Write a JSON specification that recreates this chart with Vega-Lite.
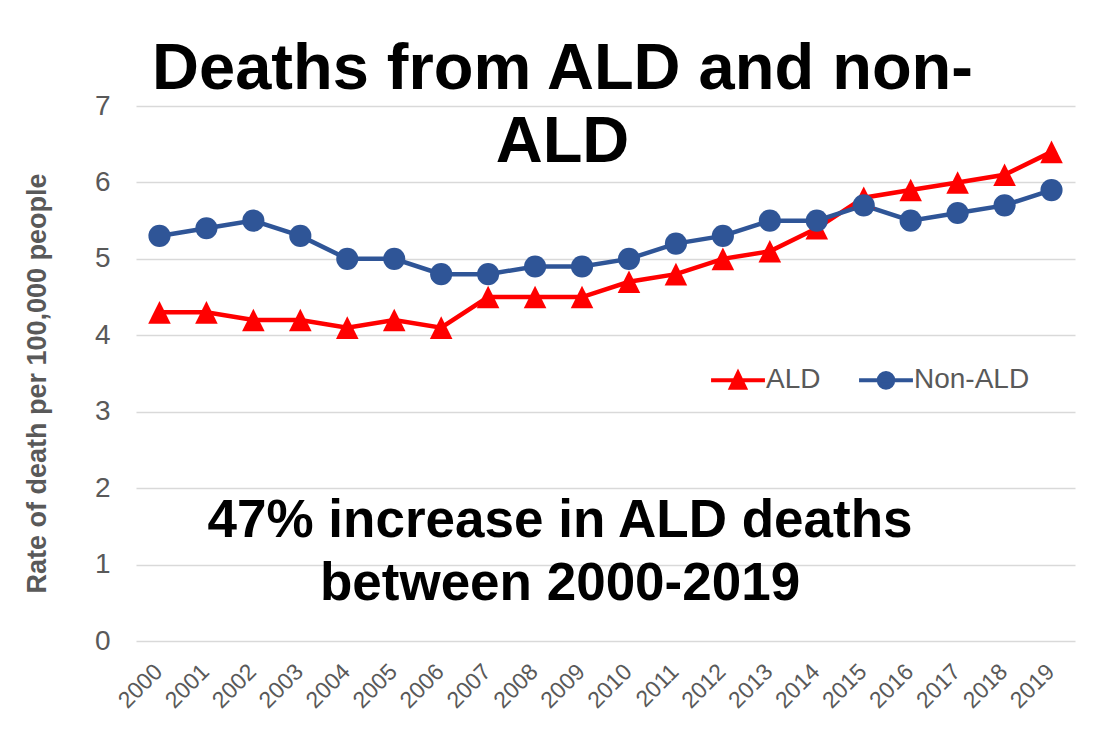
{
  "$schema": "https://vega.github.io/schema/vega-lite/v6.json",
  "width": 939,
  "height": 535,
  "autosize": "none",
  "padding": {"left": 136, "top": 106, "right": 21, "bottom": 94},
  "background": "white",
  "config": {"font": "Liberation Sans", "view": {"stroke": null}},
  "title": {
    "text": ["Deaths from ALD and non-", "ALD"],
    "font": "Liberation Sans",
    "fontSize": 65,
    "fontWeight": "bold",
    "color": "#000000",
    "anchor": "middle",
    "frame": "group",
    "baseline": "alphabetic",
    "lineHeight": 73,
    "offset": 0,
    "dx": -43,
    "dy": 135
  },
  "layer": [
    {
      "data": {
        "values": [
          {"year": "2000", "series": "ALD", "rate": 4.3},
          {"year": "2001", "series": "ALD", "rate": 4.3},
          {"year": "2002", "series": "ALD", "rate": 4.2},
          {"year": "2003", "series": "ALD", "rate": 4.2},
          {"year": "2004", "series": "ALD", "rate": 4.1},
          {"year": "2005", "series": "ALD", "rate": 4.2},
          {"year": "2006", "series": "ALD", "rate": 4.1},
          {"year": "2007", "series": "ALD", "rate": 4.5},
          {"year": "2008", "series": "ALD", "rate": 4.5},
          {"year": "2009", "series": "ALD", "rate": 4.5},
          {"year": "2010", "series": "ALD", "rate": 4.7},
          {"year": "2011", "series": "ALD", "rate": 4.8},
          {"year": "2012", "series": "ALD", "rate": 5.0},
          {"year": "2013", "series": "ALD", "rate": 5.1},
          {"year": "2014", "series": "ALD", "rate": 5.4},
          {"year": "2015", "series": "ALD", "rate": 5.8},
          {"year": "2016", "series": "ALD", "rate": 5.9},
          {"year": "2017", "series": "ALD", "rate": 6.0},
          {"year": "2018", "series": "ALD", "rate": 6.1},
          {"year": "2019", "series": "ALD", "rate": 6.4},
          {"year": "2000", "series": "Non-ALD", "rate": 5.3},
          {"year": "2001", "series": "Non-ALD", "rate": 5.4},
          {"year": "2002", "series": "Non-ALD", "rate": 5.5},
          {"year": "2003", "series": "Non-ALD", "rate": 5.3},
          {"year": "2004", "series": "Non-ALD", "rate": 5.0},
          {"year": "2005", "series": "Non-ALD", "rate": 5.0},
          {"year": "2006", "series": "Non-ALD", "rate": 4.8},
          {"year": "2007", "series": "Non-ALD", "rate": 4.8},
          {"year": "2008", "series": "Non-ALD", "rate": 4.9},
          {"year": "2009", "series": "Non-ALD", "rate": 4.9},
          {"year": "2010", "series": "Non-ALD", "rate": 5.0},
          {"year": "2011", "series": "Non-ALD", "rate": 5.2},
          {"year": "2012", "series": "Non-ALD", "rate": 5.3},
          {"year": "2013", "series": "Non-ALD", "rate": 5.5},
          {"year": "2014", "series": "Non-ALD", "rate": 5.5},
          {"year": "2015", "series": "Non-ALD", "rate": 5.7},
          {"year": "2016", "series": "Non-ALD", "rate": 5.5},
          {"year": "2017", "series": "Non-ALD", "rate": 5.6},
          {"year": "2018", "series": "Non-ALD", "rate": 5.7},
          {"year": "2019", "series": "Non-ALD", "rate": 5.9}
        ]
      },
      "encoding": {
        "x": {
          "field": "year",
          "type": "ordinal",
          "scale": {"type": "point", "padding": 0.5},
          "axis": {
            "title": null,
            "labelAngle": -45,
            "labelAlign": "right",
            "labelBaseline": "top",
            "labelPadding": 19,
            "labelOffset": -9,
            "labelFontSize": 23,
            "labelColor": "#595959",
            "labelFont": "Liberation Sans",
            "ticks": false,
            "domain": false,
            "grid": false
          }
        },
        "y": {
          "field": "rate",
          "type": "quantitative",
          "scale": {"domain": [0, 7], "nice": false},
          "axis": {
            "title": "Rate of death per 100,000 people",
            "titleFont": "Liberation Sans",
            "titleFontSize": 27,
            "titleFontWeight": "bold",
            "titleColor": "#595959",
            "titleAngle": -90,
            "titleAlign": "center",
            "titleBaseline": "middle",
            "titleX": -99,
            "titleY": 277,
            "values": [0, 1, 2, 3, 4, 5, 6, 7],
            "format": "d",
            "labelFontSize": 28,
            "labelColor": "#595959",
            "labelFont": "Liberation Sans",
            "labelPadding": 26,
            "ticks": false,
            "domain": false,
            "grid": true,
            "gridColor": "#d9d9d9",
            "gridWidth": 1.5
          }
        },
        "color": {
          "field": "series",
          "type": "nominal",
          "scale": {"domain": ["ALD", "Non-ALD"], "range": ["#ff0000", "#2f5597"]},
          "legend": {
            "title": null,
            "orient": "none",
            "direction": "horizontal",
            "legendX": 573,
            "legendY": 245,
            "padding": 0,
            "symbolSize": 2900,
            "symbolStrokeWidth": 4,
            "labelFontSize": 28,
            "labelColor": "#595959",
            "labelFont": "Liberation Sans",
            "labelOffset": -1,
            "columnPadding": 30,
            "encode": {
              "symbols": {
                "update": {
                  "shape": [
                    {"test": "datum.value === 'ALD'", "value": "M-1,0L1,0M-0.26,0.27L0,-0.27L0.26,0.27Z"},
                    {"value": "M-1,0L1,0M-0.27,0A0.27,0.27,0,1,1,0.27,0A0.27,0.27,0,1,1,-0.27,0Z"}
                  ],
                  "fill": [
                    {"test": "datum.value === 'ALD'", "value": "#ff0000"},
                    {"value": "#2f5597"}
                  ],
                  "stroke": [
                    {"test": "datum.value === 'ALD'", "value": "#ff0000"},
                    {"value": "#2f5597"}
                  ],
                  "strokeWidth": {"value": 4},
                  "opacity": {"value": 1},
                  "fillOpacity": {"value": 1},
                  "strokeOpacity": {"value": 1}
                }
              }
            }
          }
        }
      },
      "layer": [
        {"mark": {"type": "line", "strokeWidth": 4.5, "strokeCap": "round"}},
        {
          "transform": [{"filter": "datum.series === 'ALD'"}],
          "mark": {"type": "point", "filled": true, "opacity": 1, "size": 510, "shape": "M0,-1L1,1L-1,1Z"}
        },
        {
          "transform": [{"filter": "datum.series === 'Non-ALD'"}],
          "mark": {"type": "point", "filled": true, "opacity": 1, "size": 490, "shape": "circle"}
        }
      ]
    },
    {
      "data": {"values": [{"note": "annotation"}]},
      "mark": {
        "type": "text",
        "text": ["47% increase in ALD deaths", "between 2000-2019"],
        "font": "Liberation Sans",
        "fontSize": 53,
        "fontWeight": "bold",
        "color": "#000000",
        "align": "center",
        "baseline": "alphabetic",
        "lineHeight": 63,
        "dx": -22
      },
      "encoding": {
        "x": {"datum": "2009"},
        "y": {"datum": 1.36}
      }
    }
  ]
}
